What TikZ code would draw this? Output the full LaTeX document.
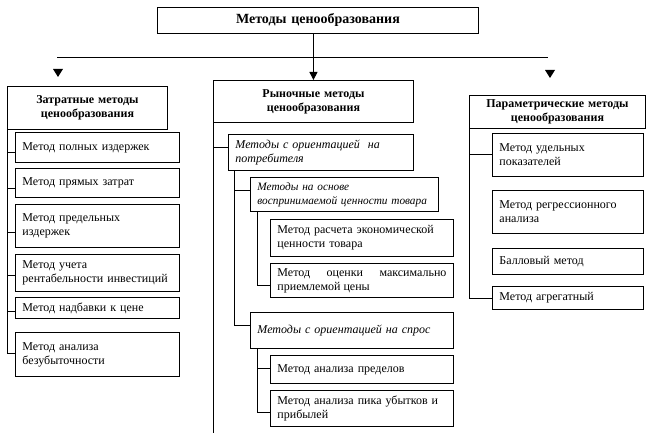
\documentclass[tikz,border=0pt]{standalone}
\usepackage{fontspec}
\setmainfont{Liberation Serif}
\usetikzlibrary{arrows.meta,calc}
\newcommand{\mkbox}[7]{%
  \pgfmathsetmacro{\zzw}{#4-#2}\pgfmathsetmacro{\zzh}{#5-#3}\pgfmathsetmacro{\zzt}{#4-#2-14}%
  \node[box,minimum width=\zzw pt,minimum height=\zzh pt,text width=\zzt pt,anchor=north west,#6] (#1) at (#2,#3) {#7};}
\begin{document}
\begin{tikzpicture}[x=1pt,y=-1pt,
  box/.style={draw,line width=0.9pt,rectangle,inner xsep=7pt,inner ysep=2pt,align=left,
    font=\fontsize{12}{14}\selectfont},
  hdr/.style={align=center,font=\fontsize{12}{14}\selectfont\bfseries},
  top/.style={align=center,font=\fontsize{14}{16}\selectfont\bfseries},
  itl/.style={font=\fontsize{12}{14}\selectfont\itshape},
  ln/.style={line width=0.9pt},
  arr/.style={line width=0.9pt,-{Triangle[width=8pt,length=8pt]}}]
\useasboundingbox (0,0) rectangle (648,433);
\fill[white] (0,0) rectangle (648,433);
% top level
\mkbox{T}{157}{7}{478}{33}{top}{Методы ценообразования}
\mkbox{L}{7}{86}{167}{129}{hdr}{Затратные методы\\ценообразования}
\mkbox{M}{213}{80}{413}{122}{hdr}{Рыночные методы\\ценообразования}
\mkbox{P}{469}{95}{645}{128}{hdr}{Параметрические методы\\ценообразования}
% left column
\mkbox{l1}{15}{132}{179}{162}{}{Метод полных издержек}
\mkbox{l2}{15}{168}{179}{197}{}{Метод прямых затрат}
\mkbox{l3}{15}{204}{179}{247}{}{Метод предельных\\издержек}
\mkbox{l4}{15}{254}{179}{291}{}{Метод учета\\рентабельности инвестиций}
\mkbox{l5}{15}{297}{179}{318}{}{Метод надбавки к цене}
\mkbox{l6}{15}{332}{179}{376}{}{Метод анализа\\безубыточности}
% middle column
\mkbox{A}{228}{134}{413}{170}{itl}{Методы с ориентацией\ \ на\\потребителя}
\mkbox{B}{250}{177}{438}{211}{itl,inner xsep=4pt,font=\fontsize{11.3}{14}\selectfont\itshape}{Методы на основе\\воспринимаемой ценности товара}
\mkbox{C}{270}{219}{453}{256}{}{Метод расчета экономической\\ценности товара}
\mkbox{D}{270}{263}{453}{297}{align=justify}{Метод оценки максимально приемлемой цены}
\mkbox{E}{250}{312}{453}{348}{itl}{Методы с ориентацией на спрос}
\mkbox{F}{270}{355}{453}{383}{}{Метод анализа пределов}
\mkbox{G}{270}{390}{453}{426}{}{Метод анализа пика убытков и\\прибылей}
% right column
\mkbox{r1}{492}{133}{643}{176}{}{Метод удельных\\показателей}
\mkbox{r2}{492}{190}{643}{233}{}{Метод регрессионного\\анализа}
\mkbox{r3}{492}{248}{643}{274}{}{Балловый метод}
\mkbox{r4}{492}{286}{643}{309}{}{Метод агрегатный}
% top connectors
\draw[arr] (M.north |- T.south) -- (M.north);
\coordinate (hl) at (57,57);
\coordinate (hr) at (548,57);
\draw[ln] (hl) -- (hr);
\fill (53,69) -- (63,69) -- (58,77) -- cycle;
\fill (545,70) -- (555,70) -- (550,78) -- cycle;
% left trunk
\coordinate (lt) at (L.south west);
\foreach \b/\y in {l1/152,l2/188,l3/232,l4/275,l5/311,l6/353}
  \draw[ln] (lt) |- (\b.west |- 0,\y);
% middle trunk
\coordinate (mt) at (M.south west);
\coordinate (mbot) at (213,433);
\draw[ln] (mt) -- (mbot);
\draw[ln] (mt) |- (A.west |- 0,147);
\coordinate (at) at ($(A.south west)+(6,0)$);
\draw[ln] (at) |- (B.west |- 0,190);
\draw[ln] (at) |- (E.west |- 0,325);
\coordinate (bt) at ($(B.south west)+(7,0)$);
\draw[ln] (bt) |- (D.west |- 0,285);
\coordinate (et) at ($(E.south west)+(7,0)$);
\draw[ln] (et) |- (F.west |- 0,368);
\draw[ln] (et) |- (G.west |- 0,412);
% right trunk
\coordinate (pt) at (P.south west);
\draw[ln] (pt) |- (r1.west |- 0,154);
\draw[ln] (pt) |- (r4.west |- 0,298);
\end{tikzpicture}
\end{document}
